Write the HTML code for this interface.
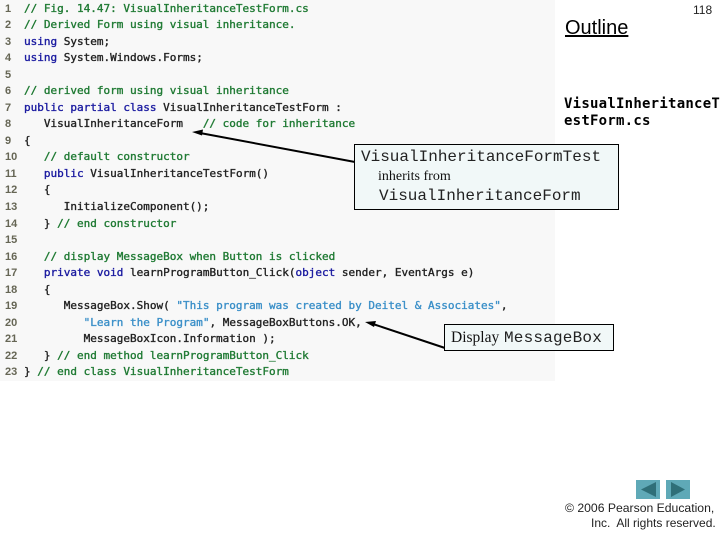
<!DOCTYPE html>
<html>
<head>
<meta charset="utf-8">
<style>
html,body{margin:0;padding:0;background:#fff}
#s{position:relative;width:720px;height:540px;overflow:hidden;background:#fff;font-family:"Liberation Sans",sans-serif}
#p{position:absolute;left:0;top:0;width:555px;height:381px;background:#f8f8f8}
.l{position:absolute;left:24px;margin-top:1px;white-space:pre;font:11px/16px "DejaVu Sans Mono","Liberation Mono",monospace;color:#222;-webkit-text-stroke:.35px currentColor}
.n{position:absolute;left:5px;width:14px;margin-top:1px;white-space:pre;font:bold 11px/16px "Liberation Sans",sans-serif;color:#665}
.g{color:#1f7a33}.b{color:#1a1aa0}.c{color:#3a8fc8}
.box{position:absolute;box-sizing:border-box;border:1px solid #000;background:#f1f8f8}
.t{position:absolute;white-space:pre}
.m{font-family:"Liberation Mono",monospace;color:#222;font-size:16px;line-height:18px}
.r{font-family:"Liberation Serif",serif;color:#111;font-size:14px;line-height:18px}
</style>
</head>
<body>
<div id="s">
<div id="p"></div>

<div class="n" style="top:0px">1</div><div class="l g" style="top:0px">// Fig. 14.47: VisualInheritanceTestForm.cs</div>
<div class="n" style="top:16px">2</div><div class="l g" style="top:16px">// Derived Form using visual inheritance.</div>
<div class="n" style="top:33px">3</div><div class="l" style="top:33px"><span class="b">using</span> System;</div>
<div class="n" style="top:49px">4</div><div class="l" style="top:49px"><span class="b">using</span> System.Windows.Forms;</div>
<div class="n" style="top:66px">5</div>
<div class="n" style="top:82px">6</div><div class="l g" style="top:82px">// derived form using visual inheritance</div>
<div class="n" style="top:99px">7</div><div class="l" style="top:99px"><span class="b">public partial class</span> VisualInheritanceTestForm :</div>
<div class="n" style="top:115px">8</div><div class="l" style="top:115px">   VisualInheritanceForm   <span class="g">// code for inheritance</span></div>
<div class="n" style="top:132px">9</div><div class="l" style="top:132px">{</div>
<div class="n" style="top:148px">10</div><div class="l g" style="top:148px">   // default constructor</div>
<div class="n" style="top:165px">11</div><div class="l" style="top:165px">   <span class="b">public</span> VisualInheritanceTestForm()</div>
<div class="n" style="top:181px">12</div><div class="l" style="top:181px">   {</div>
<div class="n" style="top:198px">13</div><div class="l" style="top:198px">      InitializeComponent();</div>
<div class="n" style="top:215px">14</div><div class="l" style="top:215px">   } <span class="g">// end constructor</span></div>
<div class="n" style="top:231px">15</div>
<div class="n" style="top:248px">16</div><div class="l g" style="top:248px">   // display MessageBox when Button is clicked</div>
<div class="n" style="top:264px">17</div><div class="l" style="top:264px">   <span class="b">private void</span> learnProgramButton_Click(<span class="b">object</span> sender, EventArgs e)</div>
<div class="n" style="top:281px">18</div><div class="l" style="top:281px">   {</div>
<div class="n" style="top:297px">19</div><div class="l" style="top:297px">      MessageBox.Show( <span class="c">"This program was created by Deitel &amp; Associates"</span>,</div>
<div class="n" style="top:314px">20</div><div class="l" style="top:314px">         <span class="c">"Learn the Program"</span>, MessageBoxButtons.OK,</div>
<div class="n" style="top:330px">21</div><div class="l" style="top:330px">         MessageBoxIcon.Information );</div>
<div class="n" style="top:347px">22</div><div class="l" style="top:347px">   } <span class="g">// end method learnProgramButton_Click</span></div>
<div class="n" style="top:363px">23</div><div class="l" style="top:363px">} <span class="g">// end class VisualInheritanceTestForm</span></div>

<svg style="position:absolute;left:0;top:0" width="720" height="540">
<line x1="355" y1="162" x2="200" y2="133" stroke="#000" stroke-width="2"/>
<polygon points="192,132 203,129.5 202,135.5" fill="#000"/>
<line x1="445" y1="348" x2="373" y2="324" stroke="#000" stroke-width="2"/>
<polygon points="365,322 376,321 374,327" fill="#000"/>
</svg>

<div class="box" style="left:354px;top:144px;width:265px;height:66px"></div>
<div class="t m" style="left:361px;top:148px">VisualInheritanceFormTest</div>
<div class="t r" style="left:378px;top:168px">inherits from</div>
<div class="t m" style="left:379px;top:187px">VisualInheritanceForm</div>

<div class="box" style="left:444px;top:324px;width:170px;height:27px"></div>
<div class="t r" style="left:451px;top:329px;font-size:15.5px">Display</div>
<div class="t m" style="left:504px;top:329px;letter-spacing:.2px">MessageBox</div>

<div class="t" style="left:565px;top:16px;font-size:20px;line-height:24px;color:#000;text-decoration:underline">Outline</div>
<div class="t" style="left:693px;top:3px;font-size:12px;line-height:14px;color:#222">118</div>
<div class="t" style="left:564px;top:96px;font:bold 14px/17px 'DejaVu Sans Mono','Liberation Mono',monospace;color:#000;letter-spacing:.24px">VisualInheritanceT
estForm.cs</div>

<svg style="position:absolute;left:636px;top:480px" width="56" height="20">
<rect x="0" y="0" width="24" height="19" fill="#5fa9b7"/>
<polygon points="5,9.5 20,2 20,17" fill="#2f6f78"/>
<rect x="30" y="0" width="24" height="19" fill="#5fa9b7"/>
<polygon points="49,9.5 35,2 35,17" fill="#2f6f78"/>
</svg>

<div class="t" style="left:565px;top:501px;font-size:12.2px;line-height:15px;color:#222">© 2006 Pearson Education,</div>
<div class="t" style="left:591px;top:516px;font-size:12px;line-height:15px;color:#222">Inc.  All rights reserved.</div>
</div>
</body>
</html>
